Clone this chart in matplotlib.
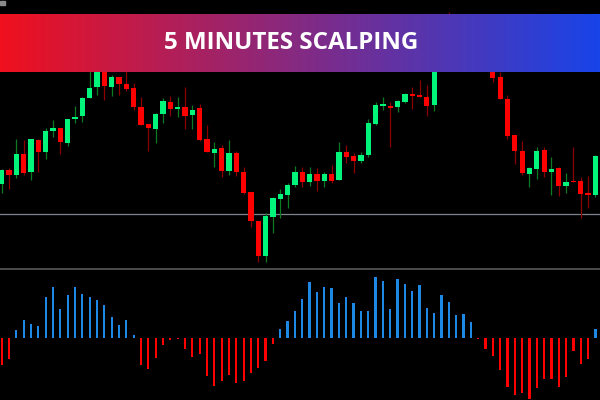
import numpy as np # arrays for data
import matplotlib
matplotlib.use("Agg") # no display
import matplotlib.pyplot as plt # plotting

# candle data (arbitrary price units), one value per bar
opens = [258, 300, 285, 347, 293, 390, 355, 416, 426, 381,
         453, 461, 517, 550, 640, 550, 578, 558, 545, 490,
         437, 424, 468, 504, 483, 488, 466, 485, 393, 352,
         366, 296, 350, 293, 234, 146, 42, 158, 214, 226,
         255, 295, 265, 288, 268, 288, 270, 354, 342, 326,
         345, 438, 493, 493, 490, 504, 529, 526, 520, 495,
         640, 690, 675, 715, 700, 685, 665, 650, 578, 513,
         405, 357, 288, 304, 360, 295, 307, 252, 267, 268,
         230, 225]
highs = [302, 305, 394, 390, 394, 392, 425, 450, 426, 452,
         492, 520, 610, 650, 660, 585, 578, 620, 560, 518,
         437, 470, 515, 522, 518, 550, 495, 497, 434, 385,
         374, 390, 356, 310, 234, 146, 170, 218, 242, 262,
         312, 308, 308, 305, 295, 315, 385, 375, 350, 355,
         452, 505, 518, 505, 510, 532, 550, 570, 554, 660,
         705, 774, 735, 740, 725, 700, 680, 660, 595, 525,
         405, 388, 308, 368, 368, 340, 310, 290, 368, 280,
         282, 344]
lows = [230, 243, 277, 285, 270, 293, 333, 398, 348, 372,
        440, 443, 517, 526, 510, 522, 525, 538, 480, 435,
        358, 380, 440, 462, 460, 422, 423, 387, 354, 310,
        280, 285, 282, 228, 130, 25, 25, 112, 157, 187,
        250, 250, 252, 238, 248, 260, 270, 320, 292, 322,
        340, 435, 480, 370, 474, 500, 482, 518, 463, 478,
        632, 665, 668, 690, 660, 645, 630, 564, 513, 392,
        318, 285, 248, 274, 278, 225, 222, 230, 264, 157,
        185, 220]
closes = [300, 286, 349, 290, 392, 355, 418, 425, 383, 452,
          460, 517, 546, 630, 552, 578, 558, 542, 490, 435,
          426, 468, 507, 482, 488, 463, 480, 390, 354, 363,
          298, 350, 293, 232, 147, 42, 162, 215, 228, 254,
          295, 265, 288, 268, 288, 268, 355, 339, 327, 345,
          442, 494, 498, 487, 507, 529, 523, 520, 493, 640,
          690, 675, 715, 700, 685, 665, 650, 576, 513, 402,
          358, 292, 307, 358, 295, 303, 253, 265, 264, 229,
          226, 342]
level = 168 # grey horizontal level

# oscillator histogram under the price
osc = [-80, -62, 24, 54, 42, 36, 122, 153, 88, 130,
       153, 132, 122, 114, 98, 63, 38, 54, 8, -80,
       -92, -61, -21, -5, -2, -33, -56, -48, -113, -143,
       -128, -111, -134, -128, -106, -91, -68, -18, 27, 51,
       81, 118, 167, 139, 153, 150, 105, 123, 104, 81,
       81, 183, 172, 87, 177, 163, 142, 159, 89, 76,
       129, 108, 69, 72, 48, -2, -33, -53, -95, -147,
       -172, -165, -182, -149, -124, -122, -146, -116, -38, -78,
       -62, 27]

title = "5 MINUTES SCALPING"

x = np.arange(len(opens)) # bar index
o = np.array(opens); c = np.array(closes)
up = c >= o # bullish candles

fig = plt.figure(figsize=(6, 4), dpi=100, facecolor="black")

# price panel
ax = fig.add_axes([0, 131 / 400, 1, 269 / 400], facecolor="black")
ax.vlines(x[up], np.array(lows)[up], np.array(highs)[up], color="#0c7a22", lw=0.9, zorder=1) # green wicks
ax.vlines(x[~up], np.array(lows)[~up], np.array(highs)[~up], color="#8c0000", lw=0.9, zorder=1) # red wicks
body_h = np.maximum(np.abs(c - o), 3)
ax.bar(x[up], body_h[up], bottom=np.minimum(o, c)[up], width=0.72, color="#00f57a", zorder=2)
ax.bar(x[~up], body_h[~up], bottom=np.minimum(o, c)[~up], width=0.72, color="#ff0000", zorder=2)
ax.axhline(level, color="#7d838d", lw=0.9, zorder=0)
ax.set_xlim(-0.232, 81.62)
ax.set_ylim(3, 810)
ax.axis("off")

# oscillator panel
ax2 = fig.add_axes([0, 0, 1, 130 / 400], facecolor="black")
vals = np.array(osc)
ax2.bar(x, vals, width=0.3, color=np.where(vals >= 0, "#1e88e5", "#ff0000"))
ax2.set_xlim(-0.232, 81.62)
ax2.set_ylim(-186, 204)
ax2.axis("off")

# separator between panels
fig.add_artist(plt.Line2D([0, 1], [0.3263, 0.3263], color="#5a5a5a", lw=1.2, transform=fig.transFigure))

# small grey icon in the corner
fig.add_artist(plt.Rectangle((0, 0.988), 0.008, 0.01, color="#8a8a8a", transform=fig.transFigure))

# gradient banner on top
axb = fig.add_axes([0, 328 / 400, 1, 58 / 400])
left = np.array([240, 16, 30]) / 255
right = np.array([24, 68, 232]) / 255
t = np.linspace(0, 1, 300)[None, :, None]
axb.imshow(left + (right - left) * t, aspect="auto", extent=[0, 1, 0, 1])
axb.axis("off")
axb.text(0.486, 0.5, title, color="white", fontsize=17.4, fontweight="bold",
         family="Open Sans", ha="center", va="center")

fig.savefig("out.png", facecolor="black")
